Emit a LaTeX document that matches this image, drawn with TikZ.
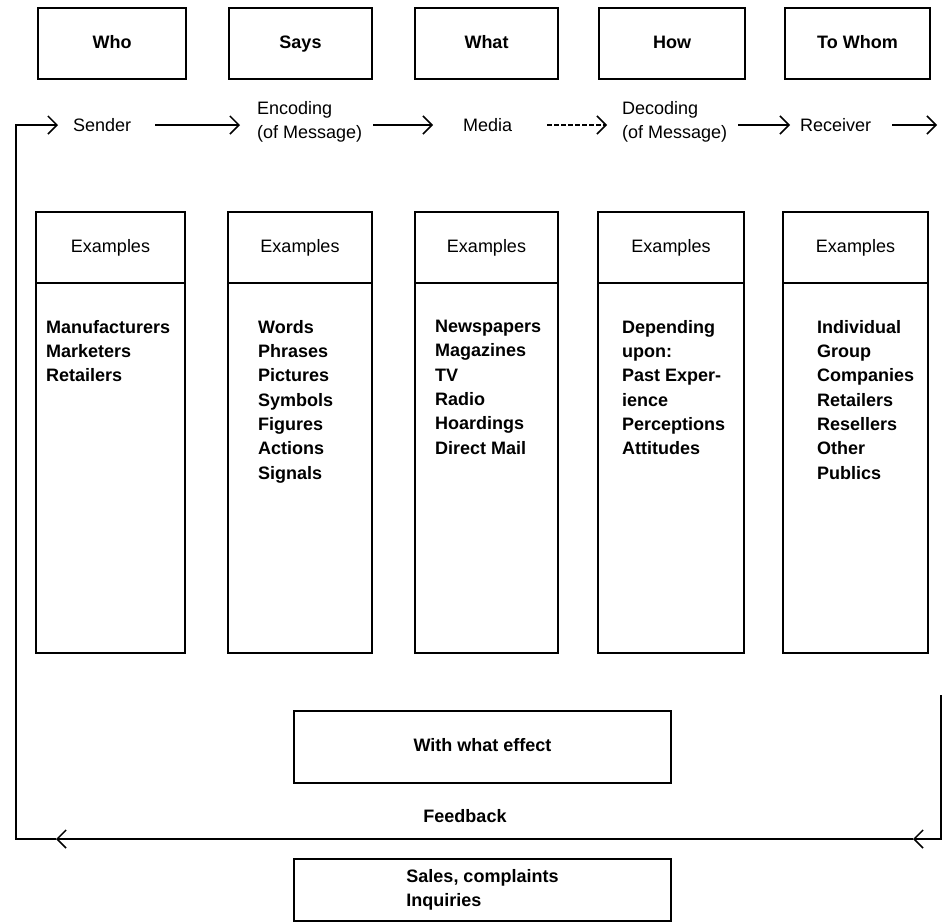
\documentclass[tikz,border=0pt]{standalone}
\usepackage{fontspec}
\setmainfont{Liberation Sans}
\usetikzlibrary{arrows.meta}
\begin{document}
\begin{tikzpicture}[x=1pt,y=-1pt,
  every node/.style={font=\fontsize{18}{24.3}\selectfont},
  box/.style={draw,line width=1.5pt,rectangle,inner sep=0pt,font=\fontsize{18}{24.3}\selectfont\bfseries},
  onebox/.style={box,text height=13pt,text depth=4pt},
  hdr/.style={draw,line width=1.5pt,rectangle,inner sep=0pt},
  lbl/.style={inner sep=0pt,align=left},
  items/.style={inner sep=0pt,align=left,anchor=north west,font=\fontsize{18}{24.3}\selectfont\bfseries},
  arr/.style={line width=1.5pt,-{Straight Barb[length=9pt,width=18pt,line width=1.5pt]}},
  medarr/.style={arr,dash pattern=on 5pt off 2pt}
]
\useasboundingbox (0,0) rectangle (946,924);

% top boxes
\node[onebox,minimum width=148pt,minimum height=71pt] (who) at (112,43.5) {Who};
\node[onebox,minimum width=143pt,minimum height=71pt] (says) at (300.5,43.5) {Says};
\node[onebox,minimum width=143pt,minimum height=71pt] (what) at (486.5,43.5) {What};
\node[onebox,minimum width=146pt,minimum height=71pt] (how) at (672,43.5) {How};
\node[onebox,minimum width=145pt,minimum height=71pt] (towhom) at (857.5,43.5) {To Whom};

% process row
\node[lbl,anchor=west] (sender) at (73,125) {Sender};
\node[lbl,anchor=west] (enc) at (257,122) {Encoding\\(of Message)};
\node[lbl,anchor=west] (media) at (463,125) {Media};
\node[lbl,anchor=west] (dec) at (622,122) {Decoding\\(of Message)};
\node[lbl,anchor=west] (recv) at (800,125) {Receiver};
\coordinate (out) at (937,125);

\draw[arr,shorten <=24pt,shorten >=17pt] (sender.east) -- (enc.west |- sender.east);
\draw[arr,shorten <=11pt,shorten >=30pt] (enc.east |- media.west) -- (media.west);
\draw[medarr,shorten <=35pt,shorten >=15pt] (media.east) -- (dec.west |- media.east);
\draw[arr,shorten <=11pt,shorten >=10pt] (dec.east |- recv.west) -- (recv.west);
\draw[arr,shorten <=21pt] (recv.east) -- (out);

% example columns: headers
\node[hdr,minimum width=149pt,minimum height=71pt] (whoh) at (110.5,247.5) {Examples};
\node[hdr,minimum width=144pt,minimum height=71pt] (saysh) at (300,247.5) {Examples};
\node[hdr,minimum width=143pt,minimum height=71pt] (whath) at (486.5,247.5) {Examples};
\node[hdr,minimum width=146pt,minimum height=71pt] (howh) at (671,247.5) {Examples};
\node[hdr,minimum width=145pt,minimum height=71pt] (towhomh) at (855.5,247.5) {Examples};

% example columns: bodies
\node[hdr,minimum width=149pt,minimum height=370pt] (whob) at (110.5,468) {};
\node[hdr,minimum width=144pt,minimum height=370pt] (saysb) at (300,468) {};
\node[hdr,minimum width=143pt,minimum height=370pt] (whatb) at (486.5,468) {};
\node[hdr,minimum width=146pt,minimum height=370pt] (howb) at (671,468) {};
\node[hdr,minimum width=145pt,minimum height=370pt] (towhomb) at (855.5,468) {};

\node[items] (whot) at (46,320) {Manufacturers\\Marketers\\Retailers};
\node[items] (sayst) at (258,320) {Words\\Phrases\\Pictures\\Symbols\\Figures\\Actions\\Signals};
\node[items] (whatt) at (435,320) {Newspapers\\Magazines\\TV\\Radio\\Hoardings\\Direct Mail};
\node[items] (howt) at (622,320) {Depending\\upon:\\Past Exper-\\ience\\Perceptions\\Attitudes};
\node[items] (towhomt) at (817,320) {Individual\\Group\\Companies\\Retailers\\Resellers\\Other\\Publics};

% effect and feedback
\node[onebox,minimum width=377pt,minimum height=72pt] (effect) at (482.5,747) {With what effect};
\node[lbl,font=\fontsize{18}{24.3}\selectfont\bfseries] (fb) at (465,816) {Feedback};
\node[box,align=left,minimum width=377pt,minimum height=62pt] (sales) at (482.5,890) {Sales, complaints\\Inquiries};

\coordinate (fbtop) at (941,695);
\coordinate (fbtipR) at (913,839);
\coordinate (fbtipL) at (56,839);
\coordinate (fbcorner) at (16,839);
\draw[arr] (fbtop) |- (fbtipR);
\draw[arr] (fbtipR) -- (fbtipL);
\draw[arr,shorten >=15pt] (fbtipL) -- (fbcorner) |- (sender.west);
\end{tikzpicture}
\end{document}
